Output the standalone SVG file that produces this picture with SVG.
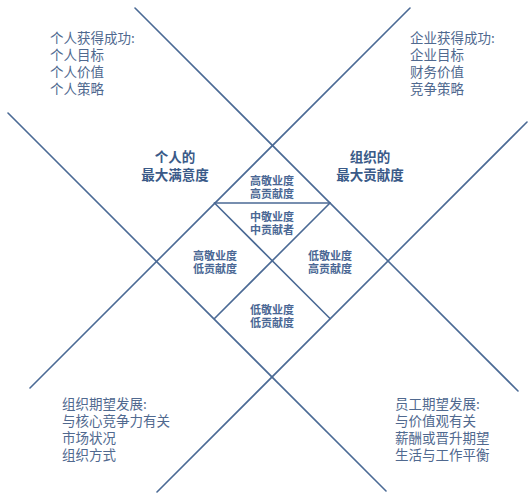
<svg xmlns="http://www.w3.org/2000/svg" width="531" height="494" viewBox="0 0 531 494">
<style>
text{font-family:"Noto Sans CJK SC","Noto Sans CJK JP",sans-serif;}
.corner{font-size:13.5px;fill:#50698f;}
.big{font-size:13.5px;font-weight:bold;fill:#3a5a88;text-anchor:middle;}
.cell{font-size:11px;font-weight:bold;fill:#4a6794;text-anchor:middle;}
.ln{stroke:#4b6a95;stroke-width:1.6;fill:none;stroke-linecap:round;}
</style>
<rect width="531" height="494" fill="#ffffff"/>
<g id="connectors">
<line class="ln" x1="135" y1="8" x2="518" y2="391"/>
<line class="ln" x1="410" y1="8" x2="30" y2="388"/>
<line class="ln" x1="8" y1="113" x2="386" y2="491"/>
<line class="ln" x1="527" y1="122" x2="157" y2="492"/>
<line class="ln" x1="214.5" y1="203" x2="330" y2="203"/>
<line class="ln" x1="214.5" y1="203" x2="330" y2="318.5"/>
<line class="ln" x1="330" y1="203" x2="214.5" y2="318.5"/>
</g>
<g id="tl">
<text class="corner" x="50" y="43">个人获得成功:</text>
<text class="corner" x="50" y="60">个人目标</text>
<text class="corner" x="50" y="77">个人价值</text>
<text class="corner" x="50" y="94">个人策略</text>
</g>
<g id="tr">
<text class="corner" x="410" y="43">企业获得成功:</text>
<text class="corner" x="410" y="60">企业目标</text>
<text class="corner" x="410" y="77">财务价值</text>
<text class="corner" x="410" y="94">竞争策略</text>
</g>
<g id="bl">
<text class="corner" x="62" y="409">组织期望发展:</text>
<text class="corner" x="62" y="426">与核心竞争力有关</text>
<text class="corner" x="62" y="443">市场状况</text>
<text class="corner" x="62" y="460">组织方式</text>
</g>
<g id="br">
<text class="corner" x="395" y="409">员工期望发展:</text>
<text class="corner" x="395" y="426">与价值观有关</text>
<text class="corner" x="395" y="443">薪酬或晋升期望</text>
<text class="corner" x="395" y="460">生活与工作平衡</text>
</g>
<g id="personal">
<text class="big" x="175" y="162">个人的</text>
<text class="big" x="175" y="180">最大满意度</text>
</g>
<g id="org">
<text class="big" x="370" y="162">组织的</text>
<text class="big" x="370" y="180">最大贡献度</text>
</g>
<g id="cell-top">
<text class="cell" x="272" y="185">高敬业度</text>
<text class="cell" x="272" y="198">高贡献度</text>
</g>
<g id="cell-mid">
<text class="cell" x="272" y="221">中敬业度</text>
<text class="cell" x="272" y="234">中贡献者</text>
</g>
<g id="cell-left">
<text class="cell" x="215" y="260">高敬业度</text>
<text class="cell" x="215" y="273">低贡献度</text>
</g>
<g id="cell-right">
<text class="cell" x="330" y="260">低敬业度</text>
<text class="cell" x="330" y="273">高贡献度</text>
</g>
<g id="cell-bottom">
<text class="cell" x="272" y="314">低敬业度</text>
<text class="cell" x="272" y="327">低贡献度</text>
</g>
</svg>
